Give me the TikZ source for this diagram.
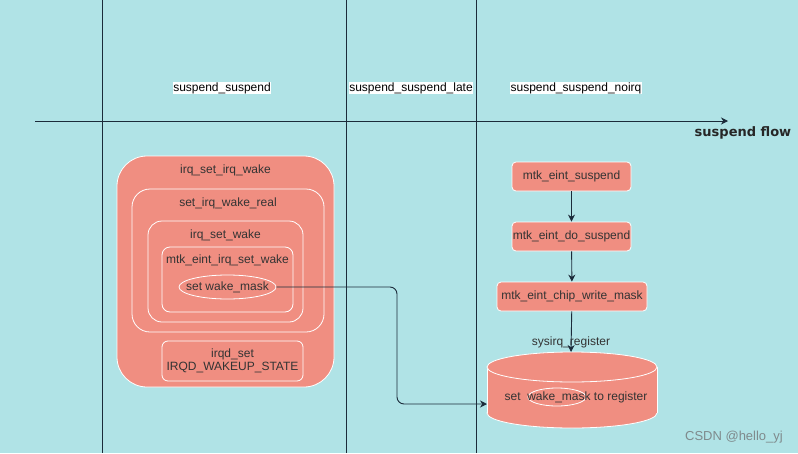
\documentclass[tikz,border=0pt]{standalone}
\usepackage{fontspec}
\setmainfont{Liberation Sans}
\newfontfamily\flowfont{DejaVu Sans}
\usetikzlibrary{arrows.meta,shapes.geometric}
\definecolor{bgc}{HTML}{B0E3E6}
\definecolor{salm}{HTML}{F08E81}
\definecolor{ln}{HTML}{1B2B3A}
\definecolor{txt}{HTML}{333333}
\definecolor{wmc}{HTML}{7F8A8C}
\begin{document}
\begin{tikzpicture}[x=1pt,y=-1pt,
  every node/.style={font=\fontsize{12}{13.5}\selectfont, text=txt, inner sep=0pt},
  lane/.style={draw=ln, line width=0.9pt},
  phase/.style={fill=white, text=black, inner sep=0.6pt},
  rbox/.style={draw=white, fill=salm, line width=0.8pt},
  fbox/.style={rbox, rounded corners=4pt, minimum width=119pt, minimum height=29pt},
  conn/.style={draw=ln, line width=0.9pt, -{Stealth[length=7pt,width=7pt]}}
]
\fill[bgc] (0,0) rectangle (798,453);
\useasboundingbox (0,0) rectangle (798,453);
% lanes
\coordinate (l1t) at (102,0); \coordinate (l1b) at (102,453);
\coordinate (l2t) at (346,0); \coordinate (l2b) at (346,453);
\coordinate (l3t) at (476,0); \coordinate (l3b) at (476,453);
\draw[lane] (l1t) -- (l1b);
\draw[lane] (l2t) -- (l2b);
\draw[lane] (l3t) -- (l3b);
% flow arrow
\coordinate (fs) at (35,121); \coordinate (fe) at (728,121);
\draw[conn] (fs) -- (fe);
\node[anchor=center, text=black!85] (flow) at (743,133) {\flowfont\bfseries\fontsize{13}{14}\selectfont suspend flow};
% phase labels
\node[phase] (p1) at (222,88) {suspend\_suspend};
\node[phase] (p2) at (411,88) {suspend\_suspend\_late};
\node[phase] (p3) at (576,88) {suspend\_suspend\_noirq};
% nested boxes
\draw[rbox, rounded corners=30pt] (117,156) rectangle (334,387);
\node (t1) at (225.5,170) {irq\_set\_irq\_wake};
\draw[rbox, rounded corners=18pt] (132,189) rectangle (324,332);
\node (t2) at (228,203) {set\_irq\_wake\_real};
\draw[rbox, rounded corners=14pt] (148,221) rectangle (303,322);
\node (t3) at (225.5,235) {irq\_set\_wake};
\draw[rbox, rounded corners=8pt] (162,247) rectangle (293,312);
\node (t4) at (227.5,260) {mtk\_eint\_irq\_set\_wake};
\node[ellipse, rbox, minimum width=97pt, minimum height=24pt] (wm) at (227.5,287) {};
\node (wmt) at (227.5,287) {set wake\_mask};
\node[rbox, rounded corners=6pt, minimum width=141pt, minimum height=40pt, align=center] (iq) at (232.5,361) {irqd\_set\\IRQD\_WAKEUP\_STATE};
% right chain
\node[fbox] (m1) at (571.5,176.5) {mtk\_eint\_suspend};
\node[fbox] (m2) at (571.5,236.5) {mtk\_eint\_do\_suspend};
\node[fbox, minimum width=150pt] (m3) at (572,296.5) {mtk\_eint\_chip\_write\_mask};
\draw[conn] (m1) -- (m2);
\draw[conn] (m2) -- (m3);
% cylinder
\node[ellipse, rbox, minimum width=170pt, minimum height=30pt] (cb) at (572,413) {};
\fill[salm] (487,367) rectangle (657,413);
\draw[white, line width=0.8pt] (487,367) -- (487,413) (657,367) -- (657,413);
\node[ellipse, rbox, minimum width=170pt, minimum height=30pt] (ct) at (572,367) {};
\node[ellipse, draw=white, line width=0.8pt, minimum width=58pt, minimum height=18pt] (wm2) at (557,397) {};
\node (ctext) at (576,397) {set\ \ wake\_mask to register};
\node (sys) at (571,342) {sysirq\_register};
\coordinate (cyltop) at (571,352);
\coordinate (cylin) at (487,404);
\draw[conn] (m3) -- (cyltop);
\draw[conn, rounded corners=7pt] (wm.east) -| (397,345) |- (cylin);
% watermark
\node[text=wmc, font=\fontsize{13}{14}\selectfont] (wmk) at (734,437) {CSDN @hello\_yj};
\end{tikzpicture}
\end{document}
